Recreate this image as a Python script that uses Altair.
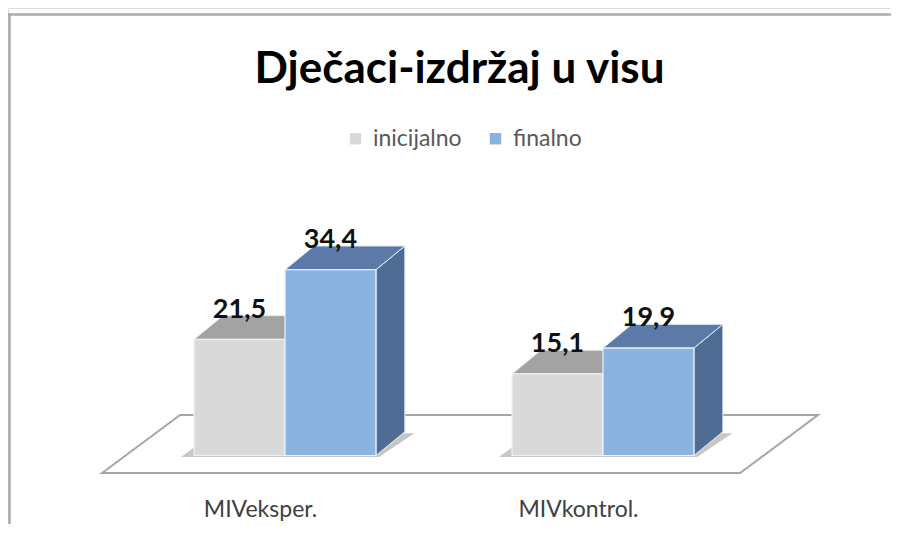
import altair as alt
import pandas as pd

# ---------------- data ----------------
title_text = "Dječaci-izdržaj u visu"
categories = ["MIVeksper.", "MIVkontrol."]
series = ["inicijalno", "finalno"]
inicijalno = [21.5, 15.1]
finalno = [34.4, 19.9]
label_inicijalno = ["21,5", "15,1"]
label_finalno = ["34,4", "19,9"]

# ---------------- style / layout constants ----------------
FONT = "Lato"
FRONT = ["#d9d9d9", "#8cb2e0"]
TOP = ["#a3a3a3", "#5b7aa8"]
SIDE = ["#8c8c8c", "#4f6c94"]
BAR_W = 0.286          # bar width in category units
DX, DY = 0.091, 4.4    # 3-D depth offset (x units, value units)
FLOOR_FRONT_Y, FLOOR_BACK_Y = -3.24, 7.5
FLOOR_LEFT, FLOOR_RIGHT, FLOOR_DX = -0.575, 0.431, 0.245
LABEL_SHIFT, LABEL_Y = -0.077, -11.3

W, H = 883, 516
ZERO_PX, PX_PER_UNIT = 447.5, 5.4
xs = alt.Scale(domain=[-0.871, 1.9057], nice=False, zero=False)
ys = alt.Scale(domain=[-(H - ZERO_PX) / PX_PER_UNIT, ZERO_PX / PX_PER_UNIT],
               nice=False, zero=False)

values = [inicijalno, finalno]
labels = [label_inicijalno, label_finalno]

front_rows, top_rows, side_rows, text_rows, shadow_rows = [], [], [], [], []
for i, cat in enumerate(categories):
    for k, s in enumerate(series):
        v = values[k][i]
        left = i - BAR_W + k * BAR_W
        right = left + BAR_W
        fid = f"{cat}-{s}"
        front_rows.append(dict(cat=cat, series=s, x=left, x2=right, y=0, y2=v))
        top_rows += [dict(id=fid, k=k, y=v, x=left, x2=right),
                     dict(id=fid, k=k, y=v + DY, x=left + DX, x2=right + DX)]
        side_rows += [dict(id=fid, k=k, x=right, y=v, y2=0),
                      dict(id=fid, k=k, x=right + DX, y=v + DY, y2=DY)]
        text_rows.append(dict(x=(left + right) / 2, y=v + DY, t=labels[k][i]))
    gl = i - BAR_W
    gr = i + BAR_W
    shadow_rows += [dict(id=cat, y=-0.3, x=gl - 0.041, x2=gr + 0.01),
                    dict(id=cat, y=-0.3 + DY, x=gl - 0.041 + DX + 0.01, x2=gr + 0.01 + DX + 0.02)]

front_df = pd.DataFrame(front_rows)
top_df = pd.DataFrame(top_rows)
side_df = pd.DataFrame(side_rows)
text_df = pd.DataFrame(text_rows)
shadow_df = pd.DataFrame(shadow_rows)
cat_df = pd.DataFrame(dict(x=[i + LABEL_SHIFT for i in range(len(categories))],
                           y=[LABEL_Y] * len(categories), t=categories))
n = len(categories)
floor_df = pd.DataFrame([
    dict(y=FLOOR_FRONT_Y, x=FLOOR_LEFT, x2=(n - 1) + FLOOR_RIGHT),
    dict(y=FLOOR_BACK_Y, x=FLOOR_LEFT + FLOOR_DX, x2=(n - 1) + FLOOR_RIGHT + FLOOR_DX),
])


def X(f):
    return alt.X(f"{f}:Q", scale=xs, axis=None, stack=None)


def Y(f):
    return alt.Y(f"{f}:Q", scale=ys, axis=None, stack=None)


# chart-area frame: only its top and left edges fall inside the picture
frame_df = pd.DataFrame({"k": [0]})
frame_top = alt.Chart(frame_df).mark_rule(color="#ababab", strokeWidth=2.5).encode(
    x=alt.value(0), x2=alt.value(W + 30), y=alt.value(6.5), y2=alt.value(6.5))
frame_left = alt.Chart(frame_df).mark_rule(color="#ababab", strokeWidth=2.5).encode(
    x=alt.value(1.5), x2=alt.value(1.5), y=alt.value(5.25), y2=alt.value(H + 30))

floor = alt.Chart(floor_df).mark_area(
    orient="horizontal", fill="white", stroke="#a6a6a6", strokeWidth=2
).encode(y=Y("y"), x=X("x"), x2=alt.X2("x2"))

shadow = alt.Chart(shadow_df).mark_area(
    orient="horizontal", fill="#bdbdbd", opacity=0.85
).encode(y=Y("y"), x=X("x"), x2=alt.X2("x2"), detail="id:N")

layers = [frame_top, frame_left, floor, shadow]
for k in range(len(series)):
    side = alt.Chart(side_df[side_df.k == k]).mark_area(
        orient="vertical", fill=SIDE[k], stroke="#e6eef8", strokeWidth=1
    ).encode(x=X("x"), y=Y("y"), y2=alt.Y2("y2"), detail="id:N")
    top = alt.Chart(top_df[top_df.k == k]).mark_area(
        orient="horizontal", fill=TOP[k], stroke="#e6eef8", strokeWidth=1
    ).encode(y=Y("y"), x=X("x"), x2=alt.X2("x2"), detail="id:N")
    front = alt.Chart(front_df[front_df.series == series[k]]).mark_rect(
        stroke="#eef3fa", strokeWidth=1.2
    ).encode(
        x=X("x"), x2=alt.X2("x2"), y=Y("y"), y2=alt.Y2("y2"),
        color=alt.Color(
            "series:N",
            scale=alt.Scale(domain=series, range=FRONT),
            legend=alt.Legend(
                orient="none", legendX=336, legendY=119, direction="horizontal",
                title=None, symbolType="square", symbolSize=130,
                symbolStrokeWidth=0, labelFont=FONT, labelFontSize=23,
                labelColor="#595959", columnPadding=22, labelOffset=6,
            ),
        ),
    )
    layers += [side, top, front]

value_text = alt.Chart(text_df).mark_text(
    font=FONT, fontSize=27, fontWeight="bold", color="#111111",
    baseline="alphabetic", align="center", dy=2
).encode(x=X("x"), y=Y("y"), text="t:N")

cat_text = alt.Chart(cat_df).mark_text(
    font=FONT, fontSize=23, color="#404040", baseline="alphabetic", align="center"
).encode(x=X("x"), y=Y("y"), text="t:N")

layers += [value_text, cat_text]

chart = alt.layer(*layers).properties(
    width=W, height=H,
    title=alt.Title(title_text, font=FONT, fontSize=44, fontWeight="bold",
                    color="#000000", anchor="middle", frame="group",
                    offset=-119, baseline="alphabetic", dx=10),
    autosize=alt.AutoSizeParams(type="none"),
    padding={"left": 0, "top": 0, "right": 0, "bottom": 0},
).configure_view(stroke=None).configure(background="white")

chart.save("out.html", embed_options={"renderer": "svg", "actions": False})
